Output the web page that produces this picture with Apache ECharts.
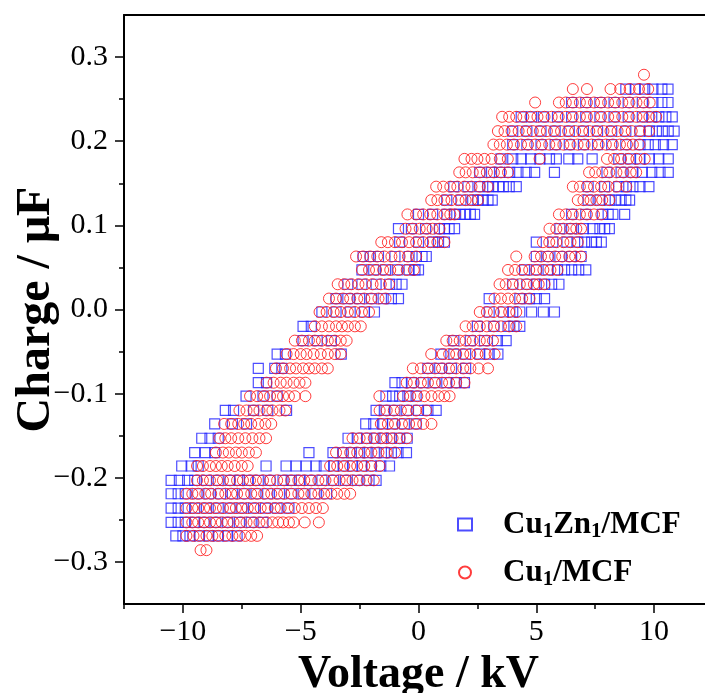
<!DOCTYPE html>
<html>
<head>
<meta charset="utf-8">
<script src="https://cdn.jsdelivr.net/npm/echarts@6/dist/echarts.min.js"></script>
<style>
html,body{margin:0;padding:0;background:#fff;}
#chart{width:705px;height:693px;}
</style>
</head>
<body>
<div id="chart"></div>
<script>
// Charge levels (μF), bottom to top
const chargeLevels = [-0.286,-0.269,-0.253,-0.236,-0.219,-0.203,-0.186,-0.170,-0.153,-0.136,
  -0.120,-0.103,-0.087,-0.070,-0.053,-0.037,-0.020,-0.003,0.013,0.030,
  0.047,0.063,0.080,0.096,0.113,0.130,0.146,0.163,0.179,0.196,
  0.212,0.229,0.246,0.262,0.279];

// Voltages (kV) of Cu1Zn1/MCF points at each charge level
const cuZnVoltages = [
  [],
  [-10.3,-10.0,-9.7,-9.3,-8.9,-8.5,-8.1,-7.7],
  [-10.5,-10.2,-9.9,-9.5,-9.1,-8.6,-8.1,-7.6,-7.1,-6.6],
  [-10.5,-10.2,-9.9,-9.5,-9.0,-8.5,-8.0,-7.5,-7.0,-6.5,-6.0,-5.5],
  [-10.5,-10.2,-9.9,-9.4,-8.9,-8.4,-7.9,-7.4,-6.9,-6.4,-5.9,-5.4,-4.9,-4.4,-3.9],
  [-10.5,-10.15,-9.8,-9.5,-9.0,-8.5,-8.0,-7.6,-7.25,-6.8,-6.3,-5.75,-5.4,-5.05,-4.6,-4.1,-3.6,-3.1,-2.6,-2.1,-1.8],
  [-10.05,-9.65,-9.35,-6.47,-5.62,-5.2,-4.77,-4.35,-4.0,-3.6,-3.2,-2.8,-2.4,-2.0,-1.6,-1.23],
  [-9.5,-9.05,-8.65,-4.65,-3.63,-3.2,-2.85,-2.5,-2.15,-1.8,-1.45,-1.15,-0.87,-0.51],
  [-9.2,-8.85,-8.5,-2.99,-2.6,-2.2,-1.85,-1.5,-1.15,-0.8,-0.48],
  [-8.65,-7.9,-7.3,-2.24,-1.9,-1.53,-1.1,-0.6,-0.1],
  [-8.2,-7.85,-7.0,-6.4,-5.6,-1.8,-1.45,-1.0,-0.5,0.0,0.4,0.75],
  [-7.32,-6.6,-6.0,-1.38,-1.1,-0.8,-0.45,-0.1],
  [-6.8,-6.45,-1.0,-0.7,-0.3,0.2,0.7,1.2,1.6,1.95],
  [-6.8,-6.1,-5.8,0.4,0.9,1.4,2.0],
  [-6.0,-5.65,-3.28,0.95,1.5,2.0,2.6,3.0,3.37],
  [-4.9,-4.3,-3.7,1.5,2.2,2.8,3.35,3.72],
  [-4.9,-4.55,2.5,3.2,3.8,4.05,4.3],
  [-4.1,-3.5,-2.9,-2.3,-1.87,3.0,3.6,4.0,4.3,4.8,5.3,5.77],
  [-3.5,-3.0,-2.5,-2.0,-1.5,-1.15,-0.85,3.0,4.3,4.71,5.0,5.35],
  [-3.0,-2.4,-1.8,-1.23,-0.95,-0.7,4.0,4.6,5.0,5.35,5.65,5.96],
  [-2.4,-1.9,-1.4,-0.9,-0.4,-0.15,0.0,4.5,5.0,5.5,5.9,6.2,6.5,6.8,7.1],
  [-2.35,-2.05,-1.7,-1.0,-0.4,-0.1,0.15,0.33,5.0,5.5,6.0,6.5,6.9],
  [-0.8,0.0,0.6,0.85,1.1,5.0,5.7,6.3,6.76,7.05,7.35,7.55,7.76],
  [-0.85,-0.3,0.3,0.89,1.1,1.3,1.53,6.0,6.5,7.0,7.4,7.7,7.9,8.1],
  [0.0,0.6,1.2,1.53,1.75,2.0,2.2,2.38,6.5,7.1,7.8,8.05,8.25,8.75],
  [1.2,1.8,2.3,2.52,2.75,2.95,3.13,7.2,7.7,8.1,8.35,8.6,8.8,8.96],
  [1.5,2.1,2.6,2.94,3.15,3.4,3.6,3.85,4.15,7.2,7.9,8.5,8.82,9.1,9.4,9.78],
  [2.6,3.1,3.44,3.87,4.22,4.57,4.93,5.77,8.0,8.6,9.1,9.5,9.9,10.25,10.6],
  [3.5,4.0,4.36,4.76,5.15,5.56,5.85,6.38,6.76,7.37,8.5,9.0,9.4,9.8,10.2,10.6],
  [4.0,4.6,5.2,5.8,6.4,7.0,7.6,8.2,8.8,9.4,9.75,10.05,10.4,10.77],
  [4.0,4.6,5.2,5.8,6.4,7.0,7.6,8.2,8.8,9.4,9.8,10.1,10.35,10.6,10.85],
  [4.36,4.8,5.3,5.9,6.5,7.1,7.7,8.3,8.9,9.5,9.9,10.2,10.5,10.77],
  [6.5,7.1,7.7,8.3,8.9,9.5,9.95,10.33,10.59],
  [8.8,9.2,9.6,9.95,10.33,10.59],
  []
];

// Voltages (kV) of Cu1/MCF points at each charge level
const cuVoltages = [
  [-9.25,-9.0],
  [-9.85,-9.55,-9.3,-9.0,-8.75,-8.5,-8.2,-7.9,-7.6,-7.35,-7.1,-6.85],
  [-9.85,-9.6,-9.35,-9.1,-8.85,-8.6,-8.35,-8.1,-7.85,-7.55,-7.3,-7.0,-6.75,-6.45,-6.2,-5.95,-5.75,-5.5,-5.3,-4.83,-4.23],
  [-9.85,-9.6,-9.35,-9.1,-8.85,-8.6,-8.3,-8.0,-7.75,-7.5,-7.25,-6.95,-6.7,-6.4,-6.1,-5.85,-5.55,-5.25,-4.95,-4.65,-4.35,-4.06],
  [-9.85,-9.6,-9.35,-9.05,-8.8,-8.5,-8.2,-7.95,-7.7,-7.4,-7.1,-6.85,-6.55,-6.25,-6.0,-5.7,-5.4,-5.1,-4.85,-4.55,-4.25,-4.0,-3.7,-3.45,-3.15,-2.9],
  [-9.4,-9.15,-8.85,-8.55,-8.3,-8.0,-7.7,-7.45,-7.15,-6.9,-6.6,-6.3,-6.0,-5.7,-5.4,-5.1,-4.85,-4.55,-4.25,-3.95,-3.65,-3.35,-3.05,-2.8,-2.5,-2.2,-1.9],
  [-9.4,-9.15,-8.85,-8.6,-8.35,-8.1,-7.8,-7.5,-7.25,-3.75,-3.45,-3.15,-2.9,-2.6,-2.3,-2.0,-1.65],
  [-8.6,-8.3,-8.05,-7.75,-7.5,-7.2,-6.9,-3.5,-3.2,-2.9,-2.6,-2.3,-2.0,-1.7,-1.35,-1.0],
  [-8.45,-8.2,-7.95,-7.65,-7.35,-7.05,-6.75,-6.47,-2.8,-2.5,-2.2,-1.9,-1.6,-1.35,-1.1,-0.8,-0.5],
  [-8.25,-7.95,-7.65,-7.4,-7.1,-6.8,-6.5,-6.25,-1.6,-1.3,-1.0,-0.7,-0.4,-0.1,0.2,0.55],
  [-7.6,-7.3,-7.0,-6.75,-6.45,-6.2,-5.9,-5.65,-1.65,-1.35,-1.05,-0.75,-0.45,-0.1,0.33],
  [-7.15,-6.85,-6.55,-6.3,-6.0,-5.75,-5.5,-5.25,-4.8,-1.66,-0.65,-0.35,-0.05,0.25,0.55,0.85,1.1,1.32],
  [-6.45,-6.15,-5.85,-5.6,-5.3,-5.05,-4.8,-0.5,-0.2,0.1,0.4,0.7,1.0,1.3,1.6,1.95],
  [-6.05,-5.75,-5.45,-5.2,-4.9,-4.65,-4.4,-4.1,-3.85,-0.24,0.1,0.4,0.7,1.0,1.3,1.6,1.9,2.2,2.55,2.95],
  [-5.6,-5.3,-5.0,-4.75,-4.45,-4.15,-3.85,-3.55,-3.3,0.54,1.03,1.3,1.6,1.9,2.2,2.5,2.85,3.23],
  [-5.25,-4.95,-4.65,-4.4,-4.1,-3.85,-3.55,-3.3,-3.05,1.18,1.45,1.75,2.0,2.3,2.6,2.9,3.16],
  [-4.4,-4.1,-3.8,-3.5,-3.25,-3.0,-2.7,-2.45,2.0,2.3,2.6,2.9,3.2,3.5,3.85,4.15],
  [-4.2,-3.9,-3.6,-3.3,-3.0,-2.7,-2.4,-2.1,2.6,2.9,3.2,3.5,3.85,4.15],
  [-3.8,-3.5,-3.2,-2.9,-2.6,-2.3,-2.0,-1.7,-1.4,3.23,3.5,3.8,4.1,4.4,4.71],
  [-3.43,-3.15,-2.85,-2.55,-2.25,-1.95,-1.6,-1.25,3.44,3.7,4.0,4.3,4.6,4.9,5.1,5.35],
  [-2.4,-2.1,-1.8,-1.5,-1.2,-0.85,-0.5,-0.2,3.8,4.1,4.4,4.7,5.0,5.3,5.6,5.9],
  [-2.65,-2.35,-2.05,-1.75,-1.45,-1.15,-0.8,-0.45,-0.1,4.15,4.93,5.2,5.5,5.8,6.1,6.4,6.65,6.9],
  [-1.58,-1.3,-1.0,-0.7,-0.4,-0.1,0.2,0.5,0.8,1.1,5.28,5.55,5.85,6.15,6.45,6.76],
  [-0.55,-0.25,0.05,0.35,0.6,0.89,5.56,5.85,6.15,6.45,6.7,6.9],
  [-0.47,-0.1,0.2,0.5,0.8,1.1,1.35,1.53,5.96,6.25,6.55,6.85,7.15,7.45,7.76],
  [0.54,0.8,1.1,1.4,1.7,2.0,2.25,2.52,6.76,7.0,7.3,7.55,7.8,8.1],
  [0.75,1.05,1.35,1.65,1.95,2.25,2.6,2.94,6.55,6.85,7.15,7.45,7.75,8.05,8.4,8.82],
  [1.73,2.0,2.3,2.6,2.9,3.2,3.5,3.8,7.24,7.5,7.8,8.1,8.4,8.7,9.0,9.24],
  [1.95,2.25,2.5,2.8,3.1,3.45,3.79,5.14,8.0,8.3,8.6,8.9,9.25,9.6],
  [3.18,3.45,3.75,4.05,4.35,4.65,4.95,5.25,5.55,5.85,6.15,6.45,6.75,7.05,7.35,7.65,7.95,8.25,8.55,8.85,9.1,9.38],
  [3.37,3.65,3.95,4.25,4.55,4.85,5.15,5.45,5.75,6.05,6.35,6.65,6.95,7.25,7.55,7.85,8.15,8.45,8.75,9.05,9.4,9.78],
  [3.55,3.85,4.15,4.45,4.75,5.05,5.35,5.65,5.95,6.25,6.55,6.85,7.15,7.45,7.75,8.05,8.35,8.65,8.95,9.25,9.55,9.8,10.09],
  [4.95,5.96,6.25,6.55,6.85,7.15,7.45,7.75,8.05,8.35,8.65,8.95,9.25,9.55,9.81],
  [6.55,7.15,8.15,8.56,8.96,9.36,9.75],
  [9.57]
];

const seriesNames = ['Cu1Zn1/MCF', 'Cu1/MCF'];
const xMajorTicks = [-10, -5, 0, 5, 10];
const xMinorTicks = [-12.5, -7.5, -2.5, 2.5, 7.5];
const yMajorTicks = [-0.3, -0.2, -0.1, 0, 0.1, 0.2, 0.3];
const yMinorTicks = [-0.25, -0.15, -0.05, 0.05, 0.15, 0.25];

function toPoints(volts) {
  const pts = [];
  volts.forEach((row, k) => row.forEach(v => pts.push([v, chargeLevels[k]])));
  return pts;
}

const FONT = '"Liberation Serif", "Times New Roman", serif';
const minus = s => s.replace('-', '\u2212');

const chart = echarts.init(document.getElementById('chart'), null, {renderer: 'canvas'});
chart.setOption({
  animation: false,
  backgroundColor: '#fff',
  grid: {left: 124, width: 589, top: 15, height: 589, containLabel: false, outerBoundsMode: 'none'},
  legend: {
    orient: 'vertical', left: 452, top: 504, itemWidth: 14, itemHeight: 12, itemGap: 15,
    data: seriesNames,
    formatter: n => n === 'Cu1Zn1/MCF' ? '{b|Cu}{s|1}{b|Zn}{s|1}{b|/MCF}' : '{b|Cu}{s|1}{b|/MCF}',
    textStyle: {
      padding: [0, 0, 0, 26],
      rich: {
        b: {fontFamily: FONT, fontWeight: 'bold', fontSize: 31, color: '#000'},
        s: {fontFamily: FONT, fontWeight: 'bold', fontSize: 21, color: '#000', verticalAlign: 'bottom', padding: [14, 0, 0, 0]}
      }
    }
  },
  xAxis: [{
    type: 'value', min: -12.5, max: 12.5,
    name: 'Voltage / kV', nameLocation: 'middle', nameGap: 42,
    nameTextStyle: {fontFamily: FONT, fontWeight: 'bold', fontSize: 46, color: '#000'},
    axisLine: {onZero: false, lineStyle: {color: '#000', width: 2}},
    axisTick: {customValues: xMajorTicks, length: 9, lineStyle: {color: '#000', width: 1.5}},
    axisLabel: {customValues: xMajorTicks, margin: 13, fontFamily: FONT, fontSize: 30, color: '#000', formatter: v => minus(String(v))},
    splitLine: {show: false}
  }, {
    type: 'value', min: -12.5, max: 12.5, position: 'bottom',
    axisLine: {show: false, onZero: false},
    axisTick: {customValues: xMinorTicks, length: 5, lineStyle: {color: '#000', width: 1.5}},
    axisLabel: {show: false}, splitLine: {show: false}
  }, {
    type: 'value', min: -12.5, max: 12.5, position: 'top',
    axisLine: {onZero: false, lineStyle: {color: '#000', width: 2}},
    axisTick: {show: false}, axisLabel: {show: false}, splitLine: {show: false}
  }],
  yAxis: [{
    type: 'value', min: -0.35, max: 0.35,
    name: 'Charge / \u03bcF', nameLocation: 'middle', nameGap: 63, nameMoveOverlap: false,
    nameTextStyle: {fontFamily: FONT, fontWeight: 'bold', fontSize: 48, color: '#000'},
    axisLine: {onZero: false, lineStyle: {color: '#000', width: 2}},
    axisTick: {customValues: yMajorTicks, length: 9, lineStyle: {color: '#000', width: 1.5}},
    axisLabel: {customValues: yMajorTicks, margin: 16, fontFamily: FONT, fontSize: 30, color: '#000', formatter: v => minus(v.toFixed(1))},
    splitLine: {show: false}
  }, {
    type: 'value', min: -0.35, max: 0.35, position: 'left',
    axisLine: {show: false, onZero: false},
    axisTick: {customValues: yMinorTicks, length: 5, lineStyle: {color: '#000', width: 1.5}},
    axisLabel: {show: false}, splitLine: {show: false}
  }],
  series: [{
    name: seriesNames[0], type: 'scatter', xAxisIndex: 0, yAxisIndex: 0,
    symbol: 'rect', symbolSize: 10,
    itemStyle: {color: 'rgba(0,0,0,0)', borderColor: '#2020ff', borderWidth: 1.2},
    data: toPoints(cuZnVoltages)
  }, {
    name: seriesNames[1], type: 'scatter', xAxisIndex: 0, yAxisIndex: 0,
    symbol: 'circle', symbolSize: 11,
    itemStyle: {color: 'rgba(0,0,0,0)', borderColor: '#ff1a1a', borderWidth: 1, opacity: 0.85},
    data: toPoints(cuVoltages)
  }]
});
</script>
</body>
</html>
